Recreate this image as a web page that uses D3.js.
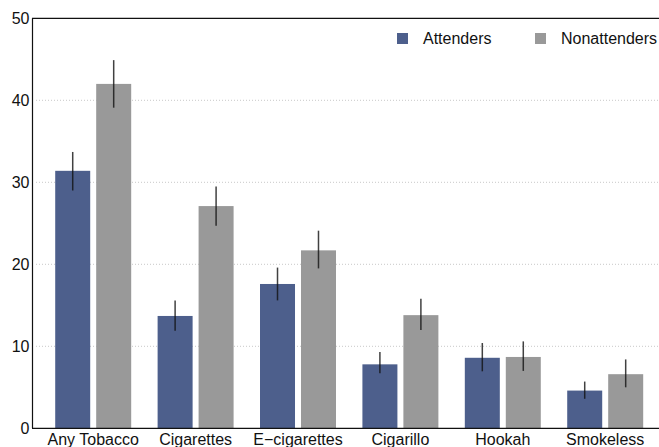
<!DOCTYPE html>
<html>
<head>
<meta charset="utf-8">
<script src="https://cdn.jsdelivr.net/npm/d3@7"></script>
<style>
  html, body { margin: 0; padding: 0; background: #fff; }
  svg { display: block; font-family: "Liberation Sans", Arial, Helvetica, sans-serif; }
</style>
</head>
<body>
<svg id="chart" width="659" height="447"></svg>
<script>
// Tobacco use prevalence (%) by attendance status
const categories = ["Any Tobacco", "Cigarettes", "E\u2212cigarettes", "Cigarillo", "Hookah", "Smokeless"];
const seriesNames = ["Attenders", "Nonattenders"];
const attenders      = [31.4, 13.7, 17.6, 7.8, 8.6, 4.6];
const attendersLo    = [29.0, 11.9, 15.6, 6.7, 6.95, 3.6];
const attendersHi    = [33.7, 15.6, 19.6, 9.3, 10.4, 5.7];
const nonattenders   = [42.0, 27.1, 21.7, 13.8, 8.7, 6.6];
const nonattendersLo = [39.1, 24.7, 19.5, 12.0, 7.0, 5.0];
const nonattendersHi = [44.9, 29.5, 24.1, 15.8, 10.6, 8.4];
const yTicks = [0, 10, 20, 30, 40, 50];
const colors = ["#4d5f8c", "#999999"];

const svg = d3.select("#chart");
const W = 659;

const y = d3.scaleLinear().domain([0, 50]).range([428.3, 18.3]);
const x0 = d3.scaleBand().domain(categories).range([42, 656.4])
  .paddingInner(0.258).paddingOuter(0.129);
const x1 = d3.scaleBand().domain(seriesNames).range([0, x0.bandwidth()]).paddingInner(0.146);
const color = d3.scaleOrdinal().domain(seriesNames).range(colors);

// dotted gridlines
svg.append("g").selectAll("line").data(yTicks.filter(t => t > 0 && t < 50)).join("line")
  .attr("x1", 36).attr("x2", W)
  .attr("y1", d => y(d)).attr("y2", d => y(d))
  .attr("stroke", "#c8c8c8").attr("stroke-width", 1)
  .attr("stroke-dasharray", "1,2");

const rows = categories.map((c, i) => ({
  cat: c,
  vals: [
    { s: seriesNames[0], v: attenders[i], lo: attendersLo[i], hi: attendersHi[i] },
    { s: seriesNames[1], v: nonattenders[i], lo: nonattendersLo[i], hi: nonattendersHi[i] }
  ]
}));

const groups = svg.append("g").selectAll("g").data(rows).join("g")
  .attr("transform", d => `translate(${x0(d.cat)},0)`);

groups.selectAll("rect").data(d => d.vals).join("rect")
  .attr("x", d => x1(d.s))
  .attr("width", x1.bandwidth())
  .attr("y", d => y(d.v))
  .attr("height", d => y(0) - y(d.v))
  .attr("fill", d => color(d.s));

groups.selectAll("line.err").data(d => d.vals).join("line")
  .attr("class", "err")
  .attr("x1", d => x1(d.s) + x1.bandwidth() / 2)
  .attr("x2", d => x1(d.s) + x1.bandwidth() / 2)
  .attr("y1", d => y(d.lo)).attr("y2", d => y(d.hi))
  .attr("stroke", "#111").attr("stroke-opacity", 0.8).attr("stroke-width", 1.5);

// axes frame
const yAxis = d3.axisLeft(y).tickValues(yTicks).tickSize(0).tickPadding(3);
const ya = svg.append("g").attr("transform", "translate(32.5,0)").call(yAxis);
ya.select(".domain").remove();
ya.selectAll("text").attr("font-size", 16).attr("fill", "#111")
  .attr("font-family", "Liberation Sans, Arial, sans-serif");

svg.append("line").attr("x1", 32.5).attr("x2", 32.5).attr("y1", y(50)).attr("y2", y(0))
  .attr("stroke", "#111").attr("stroke-width", 1.2);
svg.append("line").attr("x1", 32).attr("x2", W).attr("y1", y(50)).attr("y2", y(50))
  .attr("stroke", "#111").attr("stroke-width", 1.2);
svg.append("line").attr("x1", 32).attr("x2", W).attr("y1", y(0)).attr("y2", y(0))
  .attr("stroke", "#111").attr("stroke-width", 1.2);

// category labels
const xAxis = d3.axisBottom(x0).tickSize(0).tickPadding(0);
const xa = svg.append("g").attr("transform", `translate(0,${y(0)})`).call(xAxis);
xa.select(".domain").remove();
xa.selectAll("text").attr("font-size", 16).attr("fill", "#111")
  .attr("font-family", "Liberation Sans, Arial, sans-serif")
  .attr("dy", null).attr("y", 16.5);

// legend
const legendX = [397, 535];
const lg = svg.append("g").selectAll("g").data(seriesNames).join("g")
  .attr("transform", (d, i) => `translate(${legendX[i]},33)`);
lg.append("rect").attr("width", 11).attr("height", 11).attr("fill", d => color(d));
lg.append("text").attr("x", 26).attr("y", 11).attr("font-size", 16).attr("fill", "#111")
  .text(d => d);
</script>
</body>
</html>
